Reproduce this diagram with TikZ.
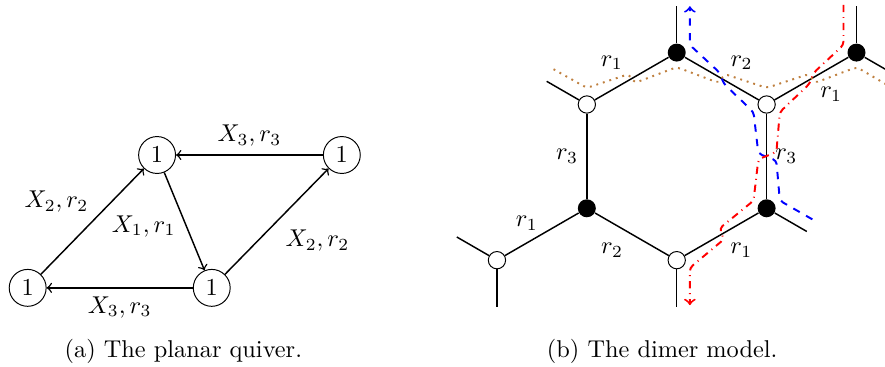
\documentclass[tikz,border=0pt]{standalone}
\usepackage{amsmath}
\usetikzlibrary{calc}

\begin{document}
\begin{tikzpicture}[
    >=to,
    vert/.style={circle, draw, inner sep=2.5pt},
    arr/.style={->, semithick},
    edge/.style={semithick},
    wdot/.style={circle, draw, fill=white, inner sep=0pt, minimum size=2.5mm},
    bdot/.style={circle, fill=black, inner sep=0pt, minimum size=2.6mm},
    zzr/.style={dotted, brown, thick, rounded corners=1.5pt},
    zzb/.style={->, dashed, blue, thick, rounded corners=1.5pt},
    zzc/.style={->, dash dot, red, thick, rounded corners=1.5pt},
  ]
  \useasboundingbox (0,0) rectangle (12.79,5.3);
  \clip (0,0) rectangle (12.79,5.3);

  % (a) the quiver
  \node[vert] (q1) at (0.40,1.14) {$1$};
  \node[vert] (q2) at (2.27,3.06) {$1$};
  \node[vert] (q3) at (4.94,3.06) {$1$};
  \node[vert] (q4) at (3.06,1.14) {$1$};
  \draw[arr] (q1) -- node[above left, xshift=2pt] (la) {$X_2,r_2$} (q2);
  \draw[arr] (q2) -- node[left, yshift=-2pt] (lb) {$X_1,r_1$} (q4);
  \draw[arr] (q4) -- node[below right] (lc) {$X_2,r_2$} (q3);
  \draw[arr] (q3) -- node[above] (ld) {$X_3,r_3$} (q2);
  \draw[arr] (q4) -- node[below] (le) {$X_3,r_3$} (q1);
  \node (capa) at (2.65,0.22) {(a) The planar quiver.};

  % (b) the dimer model
  \begin{scope}[shift={(9.78,3.04)}]
    \foreach \n/\p in {b1/{90:1.5}, b2/{30:3}, b3/{210:1.5}, b4/{-30:1.5}}
      \node[bdot] (\n) at (\p) {};
    \foreach \n/\p in {w1/{150:1.5}, w2/{30:1.5}, w3/{210:3}, w4/{-90:1.5}}
      \node[wdot] (\n) at (\p) {};
    \draw[edge] (w1) -- node[above left] (e1) {$r_1$} (b1);
    \draw[edge] (b1) -- node[above right] (e2) {$r_2$} (w2);
    \draw[edge] (w2) -- node[below right] (e3) {$r_1$} (b2);
    \draw[edge] (w1) -- node[left] (e4) {$r_3$} (b3);
    \draw[edge] (w2) -- node[right] (e5) {$r_3$} (b4);
    \draw[edge] (w3) -- node[above left, xshift=2pt, yshift=-2pt] (e6) {$r_1$} (b3);
    \draw[edge] (b3) -- node[below left] (e7) {$r_2$} (w4);
    \draw[edge] (w4) -- node[below right] (e8) {$r_1$} (b4);
    % open ends
    \foreach \v/\d/\c in {b1/90/s1, b2/90/s2, b2/-30/s3, w1/150/s4,
                          b4/-30/s5, w3/150/s6, w3/-90/s7, w4/-90/s8} {
      \coordinate (\c) at ($(\v)+(\d:0.67)$);
      \draw[edge] (\v) -- (\c);
    }
    % zig-zag paths
    \draw[zzr] (-1.78,1.26) -- (-1.30,0.99) -- (-0.69,1.19) -- (-0.61,1.06)
      -- (0,1.29) -- (0.61,1.06) -- (0.69,1.19) -- (1.30,0.99) -- (1.91,1.19)
      -- (1.99,1.06) -- (2.60,1.29) -- (3.20,0.94);
    \draw[zzb] (1.96,-0.91) -- (1.49,-0.64) -- (1.44,-0.06) -- (1.18,0.04)
      -- (1.11,0.64) -- (0.68,1.05) -- (0.62,1.21) -- (0.19,1.61) -- (0.19,2.17);
    \draw[zzc] (2.41,2.19) -- (2.41,1.61) -- (1.98,1.21) -- (1.92,1.05)
      -- (1.49,0.64) -- (1.44,0.06) -- (1.18,-0.04) -- (1.11,-0.64)
      -- (0.62,-1.04) -- (0.68,-1.20) -- (0.19,-1.61) -- (0.19,-2.15);
  \end{scope}
  \node (capb) at (9.57,0.22) {(b) The dimer model.};
\end{tikzpicture}
\end{document}
